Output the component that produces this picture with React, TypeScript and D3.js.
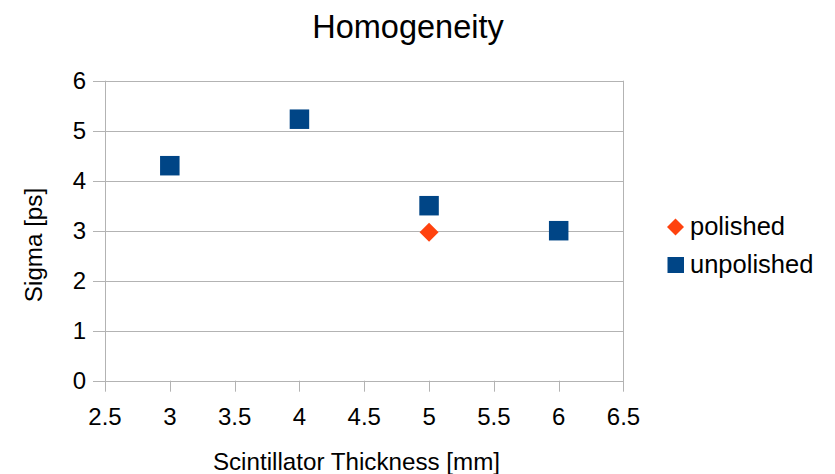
import { useEffect, useRef } from "react";
import * as d3 from "d3";

// thickness values [mm] and measured sigma [ps]
const polishedX = [5];
const polishedY = [2.97];
const unpolishedX = [3, 4, 5, 6];
const unpolishedY = [4.3, 5.23, 3.5, 3.0];

const xTicks = [2.5, 3, 3.5, 4, 4.5, 5, 5.5, 6, 6.5];
const yTicks = [0, 1, 2, 3, 4, 5, 6];

const seriesNames = ["polished", "unpolished"];
const seriesColors = ["#ff420e", "#004586"];

const App = () => {
  const chartRef = useRef<SVGSVGElement | null>(null);

  useEffect(() => {
    const svg = d3.select(chartRef.current);
    svg.selectAll("*").remove();

    const width = 835;
    const height = 474;
    const font = "'Liberation Sans', Arial, sans-serif";
    const plot = { left: 105, right: 623.5, top: 80.7, bottom: 380.7 };

    const xScale = d3.scaleLinear().domain([2.5, 6.5]).range([plot.left, plot.right]);
    const yScale = d3.scaleLinear().domain([0, 6]).range([plot.bottom, plot.top]);

    svg.append("rect").attr("width", width).attr("height", height).attr("fill", "#fff");

    // horizontal gridlines + left ticks
    svg
      .append("g")
      .selectAll("line")
      .data(yTicks)
      .join("line")
      .attr("x1", plot.left - 12)
      .attr("x2", plot.right)
      .attr("y1", (d) => Math.round(yScale(d)) + 0.5)
      .attr("y2", (d) => Math.round(yScale(d)) + 0.5)
      .attr("stroke", "#b3b3b3")
      .attr("stroke-width", 1);

    // plot frame (left / right)
    svg
      .append("line")
      .attr("x1", plot.left + 0.5)
      .attr("x2", plot.left + 0.5)
      .attr("y1", plot.top)
      .attr("y2", plot.bottom + 11)
      .attr("stroke", "#b3b3b3");
    svg
      .append("line")
      .attr("x1", plot.right)
      .attr("x2", plot.right)
      .attr("y1", plot.top)
      .attr("y2", plot.bottom + 11)
      .attr("stroke", "#b3b3b3");

    // bottom ticks
    svg
      .append("g")
      .selectAll("line")
      .data(xTicks.slice(1, -1))
      .join("line")
      .attr("x1", (d) => Math.round(xScale(d)) + 0.5)
      .attr("x2", (d) => Math.round(xScale(d)) + 0.5)
      .attr("y1", plot.bottom)
      .attr("y2", plot.bottom + 11)
      .attr("stroke", "#b3b3b3");

    // tick labels
    svg
      .append("g")
      .selectAll("text")
      .data(xTicks)
      .join("text")
      .attr("x", (d) => xScale(d))
      .attr("y", 425)
      .attr("text-anchor", "middle")
      .attr("font-family", font)
      .attr("font-size", 24)
      .attr("fill", "#000")
      .text((d) => String(d));

    svg
      .append("g")
      .selectAll("text")
      .data(yTicks)
      .join("text")
      .attr("x", 86)
      .attr("y", (d) => yScale(d) + 8.5)
      .attr("text-anchor", "end")
      .attr("font-family", font)
      .attr("font-size", 24)
      .attr("fill", "#000")
      .text((d) => String(d));

    // titles
    svg
      .append("text")
      .attr("x", 408)
      .attr("y", 38)
      .attr("text-anchor", "middle")
      .attr("font-family", font)
      .attr("font-size", 32.5)
      .attr("fill", "#000")
      .text("Homogeneity");

    svg
      .append("text")
      .attr("x", 356.5)
      .attr("y", 470)
      .attr("text-anchor", "middle")
      .attr("font-family", font)
      .attr("font-size", 24.2)
      .attr("fill", "#000")
      .text("Scintillator Thickness [mm]");

    svg
      .append("text")
      .attr("transform", "translate(42, 245) rotate(-90)")
      .attr("text-anchor", "middle")
      .attr("font-family", font)
      .attr("font-size", 24.2)
      .attr("fill", "#000")
      .text("Sigma [ps]");

    // markers
    const sq = 19.5;
    svg
      .append("g")
      .selectAll("rect")
      .data(unpolishedX.map((x, i) => ({ x, y: unpolishedY[i] })))
      .join("rect")
      .attr("x", (d) => xScale(d.x) - sq / 2)
      .attr("y", (d) => yScale(d.y) - sq / 2)
      .attr("width", sq)
      .attr("height", sq)
      .attr("fill", seriesColors[1]);

    const diamond = (cx: number, cy: number, r: number) =>
      `M${cx},${cy - r}L${cx + r},${cy}L${cx},${cy + r}L${cx - r},${cy}Z`;

    svg
      .append("g")
      .selectAll("path")
      .data(polishedX.map((x, i) => ({ x, y: polishedY[i] })))
      .join("path")
      .attr("d", (d) => diamond(xScale(d.x), yScale(d.y), 9.5))
      .attr("fill", seriesColors[0]);

    // legend
    const legend = svg.append("g");
    legend.append("path").attr("d", diamond(675.5, 227, 8.5)).attr("fill", seriesColors[0]);
    legend
      .append("rect")
      .attr("x", 667.5)
      .attr("y", 257)
      .attr("width", 16.5)
      .attr("height", 16)
      .attr("fill", seriesColors[1]);
    legend
      .selectAll("text")
      .data(seriesNames)
      .join("text")
      .attr("x", 690)
      .attr("y", (_, i) => 235 + i * 38)
      .attr("font-family", font)
      .attr("font-size", 25.5)
      .attr("fill", "#000")
      .text((d) => d);
  }, []);

  return (
    <svg
      ref={chartRef}
      width={835}
      height={474}
      style={{ position: "absolute", left: 0, top: 0 }}
    ></svg>
  );
};

export default App;
